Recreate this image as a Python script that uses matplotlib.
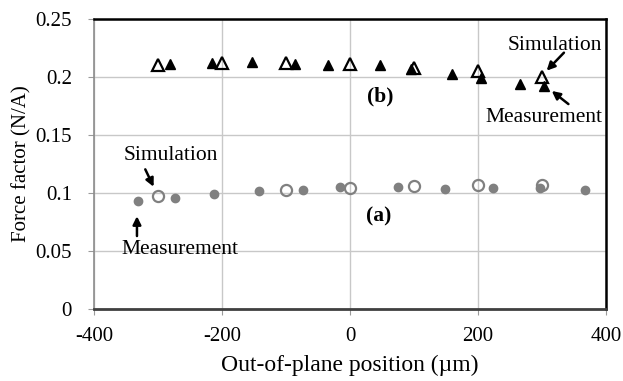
import matplotlib
matplotlib.use("Agg")
import matplotlib.pyplot as plt
from matplotlib.ticker import FuncFormatter

plt.rcParams['font.family'] = ['Liberation Serif', 'DejaVu Serif']
plt.rcParams['axes.unicode_minus'] = False

# (b) triangles
sim_b_x = [-300, -200, -100, 0, 100, 200, 300]
sim_b_y = [0.210, 0.212, 0.212, 0.211, 0.208, 0.205, 0.200]
meas_b_x = [-281, -215, -154, -86, -34, 46, 95, 159, 204, 265, 303]
meas_b_y = [0.211, 0.2125, 0.213, 0.211, 0.210, 0.210, 0.207, 0.203, 0.199, 0.194, 0.192]

# (a) circles
sim_a_x = [-300, -100, 0, 100, 200, 300]
sim_a_y = [0.0972, 0.1027, 0.1042, 0.1058, 0.1070, 0.1072]
meas_a_x = [-331, -273, -212, -143, -74, -16, 75, 148, 223, 296, 367]
meas_a_y = [0.0928, 0.0957, 0.0989, 0.1014, 0.1029, 0.1052, 0.1052, 0.1037, 0.1043, 0.1043, 0.1023]

xticks = [-400, -200, 0, 200, 400]
yticks = [0, 0.05, 0.1, 0.15, 0.2, 0.25]

fig = plt.figure(figsize=(6.23, 3.81), dpi=100)
ax = fig.add_axes([0.151, 0.189, 0.822, 0.761])

ax.set_xlim(-400, 400)
ax.set_ylim(0, 0.25)
ax.set_xticks(xticks)
ax.set_yticks(yticks)
ax.yaxis.set_major_formatter(FuncFormatter(lambda v, p: ('%g' % v)))
ax.grid(True, color='#c8c8c8', lw=1)
ax.set_axisbelow(True)

ax.spines['left'].set_color('#8c8c8c')
ax.spines['left'].set_linewidth(1.2)
ax.spines['bottom'].set_color('#404040')
ax.spines['bottom'].set_linewidth(2)
for s in ['top', 'right']:
    ax.spines[s].set_color('black')
    ax.spines[s].set_linewidth(1.8)
ax.tick_params(axis='both', colors='#9a9a9a', labelcolor='black', labelsize=15,
               length=4, direction='out')
ax.tick_params(axis='x', pad=9)
ax.tick_params(axis='y', pad=12)

grey = '#808080'
ax.plot(meas_a_x, meas_a_y, 'o', ms=6, color=grey, mec=grey, zorder=3)
ax.plot(sim_a_x, sim_a_y, 'o', ms=8, mfc='none', mec=grey, mew=1.6, zorder=4)
ax.plot(meas_b_x, meas_b_y, '^', ms=7, color='black', zorder=3)
ax.plot(sim_b_x, sim_b_y, '^', ms=8, mfc='none', mec='black', mew=1.6, zorder=4)

ax.set_xlabel('Out-of-plane position (\u00b5m)', fontsize=17)
ax.set_ylabel('Force factor (N/A)', fontsize=15)
ax.xaxis.label.set_va('center')
ax.yaxis.label.set_va('center')
ax.xaxis.set_label_coords(0.5, -0.195)
ax.yaxis.set_label_coords(-0.141, 0.5)

ap = dict(arrowstyle='-|>', color='black', lw=1.8, mutation_scale=12, shrinkA=0, shrinkB=0)
ax.annotate('', xy=(307, 0.2055), xytext=(334, 0.221), arrowprops=ap)
ax.annotate('', xy=(315, 0.188), xytext=(341, 0.1767), arrowprops=ap)
ax.annotate('', xy=(-307, 0.1054), xytext=(-320, 0.1204), arrowprops=ap)
ax.annotate('', xy=(-333, 0.080), xytext=(-333, 0.0629), arrowprops=ap)

ax.text(320, 0.2276, 'Simulation', fontsize=15.5, ha='center', va='center')
ax.text(302, 0.1655, 'Measurement', fontsize=15.5, ha='center', va='center')
ax.text(-280, 0.132, 'Simulation', fontsize=15.5, ha='center', va='center')
ax.text(-266, 0.051, 'Measurement', fontsize=15.5, ha='center', va='center')
ax.text(47, 0.1835, '(b)', fontsize=15.5, fontweight='bold', ha='center', va='center')
ax.text(45, 0.0795, '(a)', fontsize=15.5, fontweight='bold', ha='center', va='center')

fig.savefig('out.png', dpi=100)
